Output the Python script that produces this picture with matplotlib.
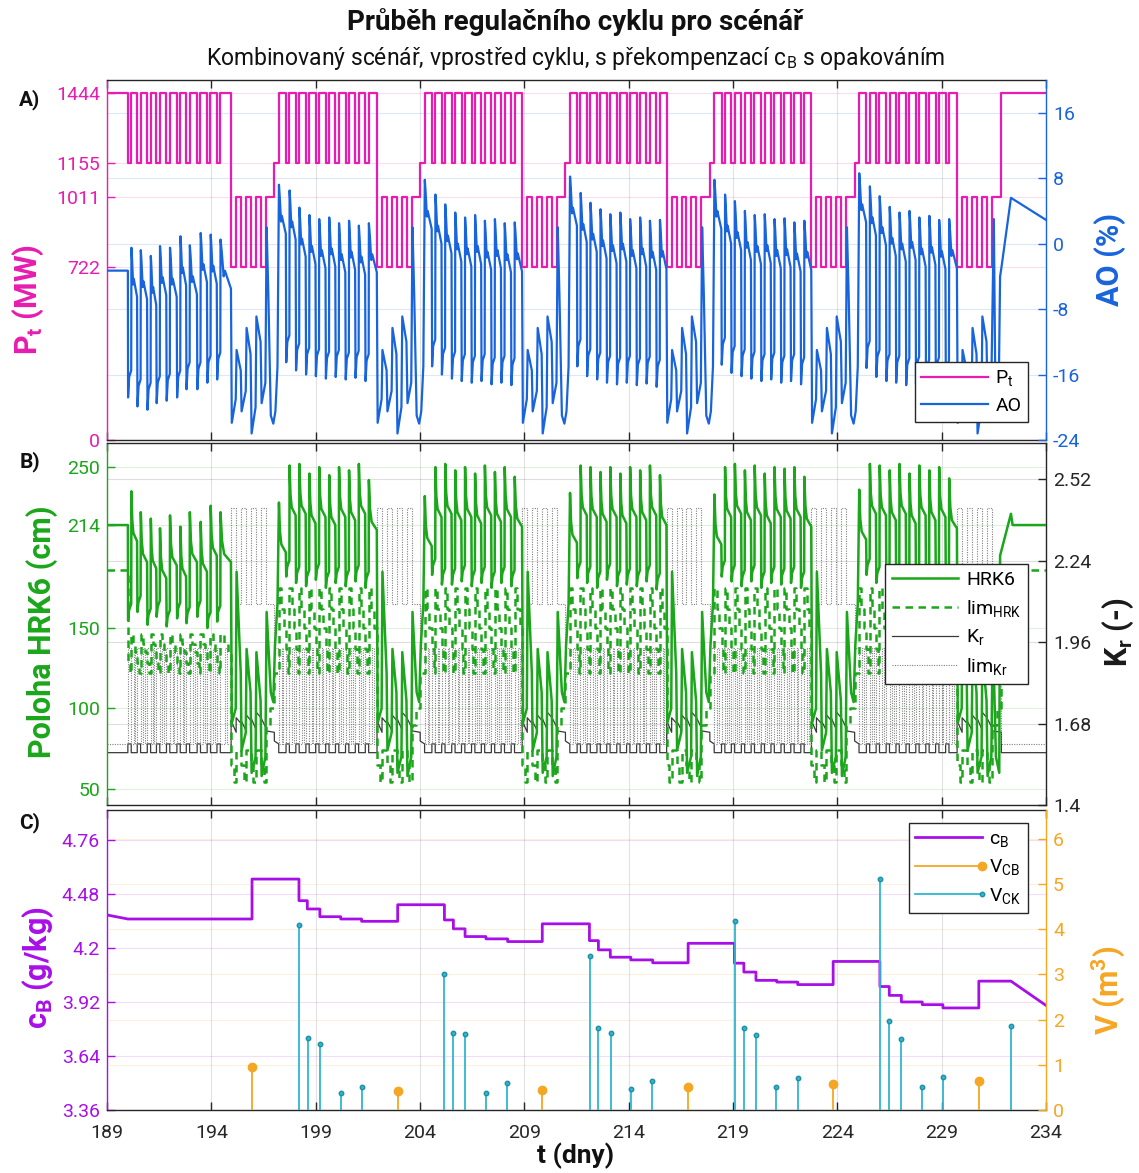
import numpy as np
import matplotlib
matplotlib.use("Agg")
import matplotlib.pyplot as plt
from matplotlib.lines import Line2D
from matplotlib.legend_handler import HandlerLine2D

plt.rcParams['font.family'] = ['Roboto', 'DejaVu Sans']
plt.rcParams['mathtext.fontset'] = 'custom'
plt.rcParams['mathtext.rm'] = 'Roboto'
plt.rcParams['mathtext.bf'] = 'Roboto:bold'
plt.rcParams['mathtext.it'] = 'Roboto:italic'
plt.rcParams['axes.unicode_minus'] = False

# ------------------------------------------------------------------ data
t_min, t_max = 189.0, 234.0
t_ticks = [189, 194, 199, 204, 209, 214, 219, 224, 229, 234]
pt_ticks = [0, 722, 1011, 1155, 1444]
ao_ticks = [-24, -16, -8, 0, 8, 16]
hrk_ticks = [50, 100, 150, 214, 250]
kr_ticks = [1.4, 1.68, 1.96, 2.24, 2.52]
kr_labels = ['1.4', '1.68', '1.96', '2.24', '2.52']
cb_ticks = [3.36, 3.64, 3.92, 4.2, 4.48, 4.76]
cb_labels = ['3.36', '3.64', '3.92', '4.2', '4.48', '4.76']
v_ticks = [0, 1, 2, 3, 4, 5, 6]

# power schedule (P_t)
pt_initial = 1444
pt_high = 1444
pt_low = 1155
first_pulse_day = 190.0
weekend_start = [194.95, 201.94, 208.90, 215.82, 222.76, 229.74]
week1_low_offsets = [0.00, 0.45, 0.93, 1.37, 1.85, 2.35, 2.80, 3.32, 3.80, 4.27]
weekday_low_offsets = [0.35, 0.82, 1.30, 1.77, 2.25, 2.72, 3.20, 3.67, 4.15]
low_width = 0.16
weekend_offsets = [0.00, 0.24, 0.48, 0.72, 0.95, 1.19, 1.43, 1.67, 2.07]
weekend_levels = [722, 1011, 722, 1011, 722, 1011, 722, 1011, 1155]
weekend_length = 2.28
last_weekend_length = 2.12

# AO (%)
ao_initial = -3.3
ao_peaks = [
    [-0.5, -0.8, -1.5, -0.3, -0.5, 0.9, -0.2, 1.3, 1.1, 0.5],
    [7.2, 6.5, 4.4, 3.5, 3.0, 3.2, 2.5, 2.8, 2.2, 2.5],
    [7.8, 6.0, 4.8, 3.8, 3.2, 3.5, 2.8, 3.0, 2.5, 2.6],
    [8.2, 6.2, 5.0, 4.2, 3.6, 3.8, 3.0, 3.2, 2.8, 2.9],
    [7.8, 6.0, 5.2, 4.0, 3.5, 3.6, 3.0, 3.1, 2.6, 2.8],
    [8.6, 7.0, 5.8, 4.5, 3.8, 4.0, 3.2, 3.4, 2.9, 3.0],
]
ao_troughs = [
    [-18.8, -19.9, -20.3, -19.5, -19.2, -18.8, -17.8, -17.8, -17.0, -16.6],
    [-14.5, -15.5, -16.0, -16.2, -16.5, -16.3, -16.6, -16.4, -16.8],
    [-15.0, -16.0, -16.5, -16.8, -17.0, -16.8, -17.2, -17.0, -17.3],
    [-15.0, -16.2, -16.6, -17.0, -17.2, -17.0, -17.3, -17.1, -17.5],
    [-14.8, -15.8, -16.2, -16.5, -16.8, -16.6, -17.0, -16.8, -17.2],
    [-15.2, -16.3, -16.8, -17.0, -17.3, -17.1, -17.5, -17.2, -17.6],
]
ao_high_frac = [0.0, 0.12, 0.30, 0.42, 1.0]
ao_high_drop = [0.0, 1.5, 4.5, 3.8, 6.0]
ao_low_frac = [0.0, 0.35, 1.0]
ao_low_rise = [0.0, 2.5, 3.3]
ao_weekend_off = [0.03, 0.22, 0.26, 0.46, 0.50, 0.70, 0.74, 0.93, 0.98, 1.08, 1.17,
                  1.21, 1.41, 1.46, 1.64, 1.70, 1.78, 1.90, 2.02, 2.12, 2.22]
ao_weekend_val = [-21.9, -19.0, -13.0, -15.5, -20.5, -18.0, -10.3, -13.5, -23.2, -21.5, -20.0,
                  -8.9, -12.0, -19.5, -17.0, 2.0, -6.0, -21.0, -22.0, -20.5, -15.0]
ao_final_t = [231.50, 231.58, 231.72, 231.80, 231.86, 232.32, 234.0]
ao_final_v = [3.0, -20.0, -21.0, -4.0, -3.0, 5.6, 2.9]

# HRK6 position (cm)
hrk_initial = 214
hrk_peaks = [
    [235, 222, 218, 212, 220, 213, 222, 216, 226, 222],
    [228, 251, 252, 246, 250, 245, 250, 248, 252, 242],
    [232, 250, 252, 248, 250, 246, 251, 247, 250, 244],
    [234, 251, 250, 247, 250, 246, 250, 248, 251, 245],
    [233, 250, 252, 248, 251, 246, 250, 249, 250, 244],
    [236, 252, 251, 248, 252, 246, 251, 248, 250, 243],
]
hrk_troughs = [
    [155, 160, 152, 157, 151, 156, 153, 157, 150, 154],
    [182, 178, 176, 180, 175, 178, 176, 179, 175],
    [183, 177, 177, 179, 176, 178, 175, 178, 176],
    [181, 178, 175, 180, 176, 177, 176, 179, 174],
    [182, 179, 176, 179, 175, 178, 177, 178, 175],
    [183, 178, 176, 180, 176, 177, 176, 179, 175],
]
hrk_high_frac = [0.0, 0.15, 0.35, 1.0]
hrk_high_drop = [0.0, 18, 26, 31]
hrk_low_frac = [0.0, 0.3, 1.0]
hrk_low_rise = [0, 6, 10]
hrk_weekend_off = [0.03, 0.22, 0.26, 0.46, 0.50, 0.70, 0.74, 0.93, 0.98, 1.17, 1.21,
                   1.41, 1.46, 1.64, 1.70, 1.90, 2.02, 2.10, 2.22]
hrk_weekend_val = [91, 100, 185, 122, 74, 85, 137, 110, 60, 70, 135,
                   105, 58, 70, 160, 110, 104, 139, 165]
hrk_final_t = [231.45, 231.60, 231.76, 231.80, 232.32, 232.40, 234.0]
hrk_final_v = [150, 70, 60, 195, 221, 214, 214]

# HRK limit (cm)
lim_hrk_initial = 186
lim_hrk_high = [[146, 140, 135]] + [[175, 162, 150]] * 5
lim_hrk_low = [[128, 122]] + [[137, 122]] * 5
lim_hrk_weekend = [[65, 54], [74], [65, 54], [74], [65, 54], [74], [65, 54], [90, 100], [122]]

# K_r and its limit (-)
kr_base = 1.58
kr_bump = 1.61
kr_weekend_start = [1.69, 1.70, 1.69, 1.71, 1.70, 1.72, 1.70, 1.655, 1.62]
kr_weekend_end = [1.65, 1.68, 1.655, 1.69, 1.66, 1.70, 1.665, 1.65, 1.61]
limkr_base = 1.61
limkr_top = 1.94
limkr_high_frac = [0.0, 0.40, 0.65]
limkr_high_levels = [1.61, 1.94, 1.61]
limkr_weekend = [2.42, 2.09, 2.42, 2.09, 2.42, 2.09, 2.42, 2.09, 1.94]

# boron concentration c_B (g/kg)
cb_start = 4.371
cb_step_t = [190.0, 195.95, 198.2, 198.6, 199.2, 200.2, 201.2, 202.93, 205.17, 205.6,
             206.16, 207.16, 208.2, 209.86, 212.12, 212.55, 213.12, 214.1, 215.15, 216.85,
             219.07, 219.52, 220.1, 221.1, 222.1, 223.8, 226.04, 226.49, 227.07, 228.07,
             229.06, 230.78, 232.32]
cb_step_v = [4.35, 4.557, 4.445, 4.402, 4.362, 4.35, 4.338, 4.424, 4.345, 4.299,
             4.259, 4.247, 4.233, 4.325, 4.238, 4.19, 4.152, 4.138, 4.123, 4.224,
             4.121, 4.075, 4.032, 4.023, 4.01, 4.13, 4.0, 3.954, 3.92, 3.906,
             3.889, 4.028]
cb_end = 3.902

# injected volumes (m3)
vcb_t = [195.95, 202.93, 209.86, 216.85, 223.8, 230.78]
vcb_v = [0.96, 0.42, 0.44, 0.50, 0.57, 0.65]
vck_t = [198.2, 198.62, 199.2, 200.2, 201.2, 205.17, 205.59, 206.16, 207.16, 208.16,
         212.13, 212.55, 213.13, 214.11, 215.11, 219.08, 219.52, 220.11, 221.08, 222.1,
         226.05, 226.49, 227.04, 228.06, 229.06, 232.32]
vck_v = [4.10, 1.60, 1.45, 0.38, 0.50, 3.00, 1.70, 1.68, 0.37, 0.59,
         3.40, 1.81, 1.70, 0.46, 0.64, 4.18, 1.81, 1.66, 0.50, 0.70,
         5.11, 1.96, 1.57, 0.52, 0.74, 1.86]

# colours
C_PT = '#E81CB0'
C_AO = '#1864DC'
C_HRK = '#1BA61B'
C_KR = '#3A3A3A'
C_LIMKR = '#808080'
C_CB = '#A80FE8'
C_VCB = '#F5A623'
C_VCK = '#2EB6CF'
C_AX = '#262626'


# ------------------------------------------------------------------ schedule
def weekday(w, start, end, low_offs, lead_high):
    out = []
    k = 0
    if lead_high:
        out.append(dict(t0=start, t1=start + low_offs[0], kind='high', week=w, idx=0, level=pt_high))
        k = 1
    for j, off in enumerate(low_offs):
        l0 = start + off
        l1 = l0 + low_width
        out.append(dict(t0=l0, t1=l1, kind='low', week=w, idx=j, level=pt_low))
        h1 = start + low_offs[j + 1] if j + 1 < len(low_offs) else end
        out.append(dict(t0=l1, t1=h1, kind='high', week=w, idx=k, level=pt_high))
        k += 1
    return out


def weekend(w):
    ws = weekend_start[w]
    last = (w == len(weekend_start) - 1)
    offs = weekend_offsets[:-1] if last else weekend_offsets
    levs = weekend_levels[:-1] if last else weekend_levels
    end_off = last_weekend_length if last else weekend_length
    out = []
    for j, (o, l) in enumerate(zip(offs, levs)):
        o1 = offs[j + 1] if j + 1 < len(offs) else end_off
        out.append(dict(t0=ws + o, t1=ws + o1, kind='weekend', week=w, idx=j, level=l))
    return out


intervals = [dict(t0=t_min, t1=first_pulse_day, kind='init', week=-1, idx=0, level=pt_initial)]
intervals += weekday(0, first_pulse_day, weekend_start[0], week1_low_offsets, False)
for w in range(len(weekend_start)):
    intervals += weekend(w)
    if w + 1 < len(weekend_start):
        intervals += weekday(w + 1, weekend_start[w] + weekend_length, weekend_start[w + 1],
                             weekday_low_offsets, True)
final_start = weekend_start[-1] + last_weekend_length
intervals.append(dict(t0=final_start, t1=t_max, kind='final', week=-1, idx=0, level=pt_high))


def add_steps(pts, t0, t1, levels, fracs=None):
    n = len(levels)
    if fracs is None:
        fracs = [i / n for i in range(n)]
    for i, L in enumerate(levels):
        a = t0 + fracs[i] * (t1 - t0)
        b = t0 + (fracs[i + 1] if i + 1 < n else 1.0) * (t1 - t0)
        pts.append((a, L))
        pts.append((b, L))


# P_t
pt_pts = []
for iv in intervals:
    pt_pts.append((iv['t0'], iv['level']))
    pt_pts.append((iv['t1'], iv['level']))


def shaped(initial, peaks, troughs, hf, hd, lf, lr, we_off, we_val, fin_t, fin_v):
    pts = [(t_min, initial), (first_pulse_day, initial)]
    for iv in intervals:
        t0, t1, kind, w, k = iv['t0'], iv['t1'], iv['kind'], iv['week'], iv['idx']
        d = t1 - t0
        if kind == 'low':
            v = troughs[w][k]
            for f, dv in zip(lf, lr):
                pts.append((t0 + 0.01 + f * (d - 0.01), v + dv))
        elif kind == 'high':
            v = peaks[w][k]
            for f, dv in zip(hf, hd):
                pts.append((t0 + 0.01 + f * (d - 0.02), v - dv))
        elif kind == 'weekend' and k == 0:
            ws = weekend_start[w]
            last = (w == len(weekend_start) - 1)
            for o, v in zip(we_off, we_val):
                if last and o >= 1.70:
                    break
                pts.append((ws + o, v))
        elif kind == 'final':
            for t, v in zip(fin_t, fin_v):
                pts.append((t, v))
    return pts


ao_pts = shaped(ao_initial, ao_peaks, ao_troughs, ao_high_frac, ao_high_drop,
                ao_low_frac, ao_low_rise, ao_weekend_off, ao_weekend_val, ao_final_t, ao_final_v)
hrk_pts = shaped(hrk_initial, hrk_peaks, hrk_troughs, hrk_high_frac, hrk_high_drop,
                 hrk_low_frac, hrk_low_rise, hrk_weekend_off, hrk_weekend_val, hrk_final_t, hrk_final_v)

lim_pts, kr_pts, limkr_pts = [], [], []
for iv in intervals:
    t0, t1, kind, w, k = iv['t0'], iv['t1'], iv['kind'], iv['week'], iv['idx']
    if kind in ('init', 'final'):
        add_steps(lim_pts, t0, t1, [lim_hrk_initial])
        add_steps(kr_pts, t0, t1, [kr_base])
        add_steps(limkr_pts, t0, t1, [limkr_base])
    elif kind == 'high':
        add_steps(lim_pts, t0, t1, lim_hrk_high[w])
        add_steps(kr_pts, t0, t1, [kr_base])
        add_steps(limkr_pts, t0, t1, limkr_high_levels, limkr_high_frac)
    elif kind == 'low':
        add_steps(lim_pts, t0, t1, lim_hrk_low[w])
        add_steps(kr_pts, t0, t1, [kr_bump])
        add_steps(limkr_pts, t0, t1, [limkr_top])
    elif kind == 'weekend':
        add_steps(lim_pts, t0, t1, lim_hrk_weekend[k])
        kr_pts.append((t0, kr_weekend_start[k]))
        kr_pts.append((t1, kr_weekend_end[k]))
        add_steps(limkr_pts, t0, t1, [limkr_weekend[k]])

cb_pts = [(t_min, cb_start)]
for i, v in enumerate(cb_step_v):
    cb_pts.append((cb_step_t[i], v))
    cb_pts.append((cb_step_t[i + 1], v))
cb_pts.append((t_max, cb_end))


def xy(pts):
    a = np.array(pts, dtype=float)
    return a[:, 0], a[:, 1]


# ------------------------------------------------------------------ figure
W, H = 1139, 1173
fig = plt.figure(figsize=(W / 100, H / 100), dpi=100)
fig.patch.set_facecolor('white')

L, R = 107, 1046
axA = fig.add_axes([L / W, 1 - 440 / H, (R - L) / W, 360 / H])
axB = fig.add_axes([L / W, 1 - 805 / H, (R - L) / W, 362 / H])
axC = fig.add_axes([L / W, 1 - 1110 / H, (R - L) / W, 300 / H])
axAR = axA.twinx()
axBR = axB.twinx()
axCR = axC.twinx()

TICK_FS = 14


def style(ax, axr, lcol, rcol, show_x):
    ax.set_xlim(t_min, t_max)
    ax.set_xticks(t_ticks)
    ax.tick_params(axis='x', direction='in', top=True, bottom=True, length=6, width=1,
                   color=C_AX, labelcolor=C_AX, labelsize=TICK_FS, labelbottom=show_x, pad=10)
    ax.tick_params(axis='y', direction='in', left=True, right=False, length=6, width=1,
                   colors=lcol, labelsize=TICK_FS, pad=5)
    axr.tick_params(axis='y', direction='in', right=True, left=False, length=6, width=1,
                    colors=rcol, labelsize=TICK_FS, pad=5)
    axr.tick_params(axis='x', top=False, bottom=False, labelbottom=False)
    ax.grid(axis='x', color=C_AX, alpha=0.13, lw=0.8)
    ax.grid(axis='y', color=lcol, alpha=0.15, lw=0.8)
    axr.grid(axis='y', color=rcol, alpha=0.15, lw=0.8)
    for s in ('top', 'bottom'):
        ax.spines[s].set_color(C_AX)
        ax.spines[s].set_linewidth(1.0)
    ax.spines['left'].set_color(lcol)
    ax.spines['left'].set_linewidth(1.0)
    ax.spines['right'].set_visible(False)
    for s in ('top', 'bottom', 'left'):
        axr.spines[s].set_visible(False)
    axr.spines['right'].set_color(rcol)
    axr.spines['right'].set_linewidth(1.0)


# ---- panel A
x, y = xy(pt_pts)
hPt, = axA.plot(x, y, color=C_PT, lw=1.6)
x, y = xy(ao_pts)
hAO, = axAR.plot(x, y, color=C_AO, lw=1.6)
axA.set_ylim(0, 1500)
axA.set_yticks(pt_ticks)
axAR.set_ylim(-24, 20)
axAR.set_yticks(ao_ticks)
style(axA, axAR, C_PT, C_AO, False)

leg_kw = dict(frameon=True, fancybox=False, framealpha=1, edgecolor=C_AX, fontsize=14,
              handlelength=3.4, borderpad=0.35, labelspacing=0.45, handletextpad=0.4, borderaxespad=0)
legA = axAR.legend([hPt, hAO], ['P' + r'$_\mathrm{t}$', 'AO'], loc='lower right',
                   bbox_to_anchor=(0.981, 0.05), **leg_kw)
legA.get_frame().set_linewidth(1.0)

# ---- panel B
x, y = xy(kr_pts)
hKr, = axBR.plot(x, y, color=C_KR, lw=0.9)
x, y = xy(limkr_pts)
hLimKr, = axBR.plot(x, y, color=C_LIMKR, lw=0.8, ls=(0, (1, 1.2)))
x, y = xy(lim_pts)
hLim, = axB.plot(x, y, color=C_HRK, lw=1.8, ls=(0, (3.0, 2.2)))
x, y = xy(hrk_pts)
hHrk, = axB.plot(x, y, color=C_HRK, lw=1.8)
axB.set_ylim(40, 265)
axB.set_yticks(hrk_ticks)
axBR.set_ylim(1.4, 2.645)
axBR.set_yticks(kr_ticks, labels=kr_labels)
style(axB, axBR, C_HRK, C_AX, False)
axB.set_zorder(axBR.get_zorder() + 1)
axB.patch.set_visible(False)
legB = axB.legend([hHrk, hLim, hKr, hLimKr],
                  ['HRK6', 'lim' + r'$_\mathrm{HRK}$', 'K' + r'$_\mathrm{r}$', 'lim' + r'$_\mathrm{Kr}$'],
                  loc='center right', bbox_to_anchor=(0.981, 0.5), **leg_kw)
legB.get_frame().set_linewidth(1.0)

# ---- panel C
x, y = xy(cb_pts)
hCb, = axC.plot(x, y, color=C_CB, lw=2.0)
axCR.vlines(vcb_t, 0, vcb_v, color=C_VCB, lw=1.3)
axCR.plot(vcb_t, vcb_v, 'o', color=C_VCB, ms=6)
axCR.vlines(vck_t, 0, vck_v, color=C_VCK, lw=1.3)
axCR.plot(vck_t, vck_v, 'o', color=C_VCK, mec='#1E8FA5', ms=3.2)
axC.set_ylim(3.36, 4.915)
axC.set_yticks(cb_ticks, labels=cb_labels)
axCR.set_ylim(0, 6.64)
axCR.set_yticks(v_ticks)
style(axC, axCR, C_CB, C_VCB, True)
axC.set_xticklabels([str(t) for t in t_ticks])


class EndMarker(HandlerLine2D):
    def create_artists(self, legend, orig_handle, xdescent, ydescent, width, height, fontsize, trans):
        arts = super().create_artists(legend, orig_handle, xdescent, ydescent, width, height, fontsize, trans)
        ln = arts[0]
        ln.set_markevery([len(ln.get_xdata()) - 1])
        return arts


hV1 = Line2D([], [], color=C_VCB, lw=1.3, marker='o', ms=6)
hV2 = Line2D([], [], color=C_VCK, lw=1.3, marker='o', ms=3.2, mec='#1E8FA5')
legC = axCR.legend([hCb, hV1, hV2],
                   ['c' + r'$_\mathrm{B}$', 'V' + r'$_\mathrm{CB}$', 'V' + r'$_\mathrm{CK}$'],
                   loc='upper right', bbox_to_anchor=(0.981, 0.957),
                   handler_map={hV1: EndMarker(), hV2: EndMarker()}, **leg_kw)
legC.get_frame().set_linewidth(1.0)

# ---- texts
fig.text(0.505, 1 - 22 / H, 'Průběh regulačního cyklu pro scénář', ha='center', va='center',
         fontsize=20, fontweight='bold', color='#111111')
fig.text(0.505, 1 - 59 / H, 'Kombinovaný scénář, vprostřed cyklu, s překompenzací c' + r'$_\mathrm{B}$'
         + ' s opakováním', ha='center', va='center', fontsize=16.5, color='#111111')
for lab, yy in (('A)', 100), ('B)', 462), ('C)', 823)):
    fig.text(30 / W, 1 - yy / H, lab, ha='center', va='center', fontsize=15, fontweight='bold',
             color='#111111')

YL = 22
fig.text(28 / W, 1 - 300 / H, 'P' + r'$_\mathbf{t}$' + ' (MW)', rotation=90, ha='center', va='center',
         fontsize=YL, fontweight='bold', color=C_PT)
fig.text(1110 / W, 1 - 260 / H, 'AO (%)', rotation=90, ha='center', va='center',
         fontsize=YL, fontweight='bold', color=C_AO)
fig.text(42 / W, 1 - 632 / H, 'Poloha HRK6 (cm)', rotation=90, ha='center', va='center',
         fontsize=YL, fontweight='bold', color=C_HRK)
fig.text(1118 / W, 1 - 632 / H, 'K' + r'$_\mathbf{r}$' + ' (-)', rotation=90, ha='center', va='center',
         fontsize=YL, fontweight='bold', color='#1a1a1a')
fig.text(38 / W, 1 - 968 / H, 'c' + r'$_\mathbf{B}$' + ' (g/kg)', rotation=90, ha='center', va='center',
         fontsize=YL, fontweight='bold', color=C_CB)
fig.text(1108 / W, 1 - 990 / H, 'V (m' + r'$^\mathbf{3}$' + ')', rotation=90, ha='center', va='center',
         fontsize=YL, fontweight='bold', color=C_VCB)
fig.text(0.505, 1 - 1156 / H, 't (dny)', ha='center', va='center', fontsize=19, fontweight='bold',
         color='#111111')

fig.savefig('out.png', dpi=100, facecolor='white')
